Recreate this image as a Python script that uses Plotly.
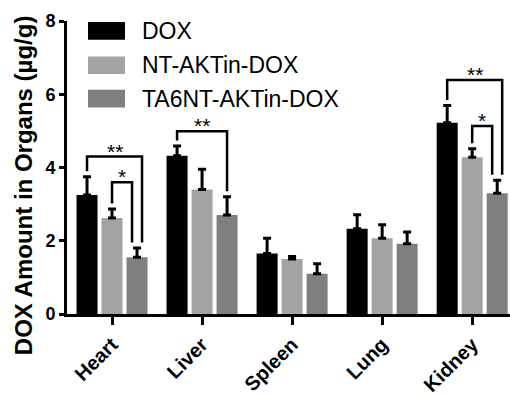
import plotly.graph_objects as go

# Organ distribution of DOX (mean, upper SD) for three formulations
organs = ["Heart", "Liver", "Spleen", "Lung", "Kidney"]
groups = ["DOX", "NT-AKTin-DOX", "TA6NT-AKTin-DOX"]
dox_mean = [3.25, 4.32, 1.65, 2.33, 5.22]
dox_err = [0.50, 0.27, 0.42, 0.38, 0.47]
nt_mean = [2.62, 3.40, 1.50, 2.07, 4.28]
nt_err = [0.25, 0.55, 0.07, 0.37, 0.23]
ta6_mean = [1.55, 2.70, 1.10, 1.92, 3.30]
ta6_err = [0.25, 0.50, 0.27, 0.32, 0.35]
colors = ["#000000", "#a3a3a6", "#7f7f7f"]

# Significance brackets: organ, first group, second group, bracket height, label
sig_organ = ["Heart", "Heart", "Liver", "Kidney", "Kidney"]
sig_from = [0, 1, 0, 0, 1]
sig_to = [2, 2, 2, 2, 2]
sig_level = [4.30, 3.60, 4.99, 6.39, 5.13]
sig_label = ["**", "*", "**", "**", "*"]
sig_nudge = [1, -1, 0, 1, -1]

means = [dox_mean, nt_mean, ta6_mean]
errs = [dox_err, nt_err, ta6_err]

W, H = 510, 396
ML, MR, MT, MB = 67, 0, 21, 77
PW, PH = W - ML - MR, H - MT - MB
BARGAP, GROUPGAP = 0.167, 0.16
FONT = "Arial, Liberation Sans, sans-serif"

fig = go.Figure()
for g, name in enumerate(groups):
    fig.add_trace(go.Bar(
        x=organs, y=means[g], name=name,
        marker=dict(color=colors[g], line=dict(width=0)),
        error_y=dict(type="data", array=errs[g], arrayminus=[0] * len(organs),
                     symmetric=False, color="black", thickness=3, width=4),
        showlegend=False,
    ))

# bar centre offsets within a category slot
slot = (1 - BARGAP) / len(groups)
def bar_x(organ, g):
    return organs.index(organ) + (g - (len(groups) - 1) / 2) * slot

def top(organ, g):
    i = organs.index(organ)
    return means[g][i] + errs[g][i]

nudge = 5 / (PW / 4.92)
gap = 0.15
shapes = []
annotations = []
for org, a, b, lvl, lab, nd in zip(sig_organ, sig_from, sig_to, sig_level, sig_label, sig_nudge):
    x0 = bar_x(org, a)
    x1 = bar_x(org, b) + nd * nudge
    path = (f"M {x0},{top(org, a) + gap} L {x0},{lvl} "
            f"L {x1},{lvl} L {x1},{top(org, b) + gap}")
    shapes.append(dict(type="path", path=path, xref="x", yref="y",
                       line=dict(color="black", width=2.5)))
    annotations.append(dict(x=(x0 + x1) / 2, y=lvl, xref="x", yref="y",
                            text=lab, showarrow=False, yanchor="bottom",
                            yshift=-8, font=dict(family=FONT, size=21, color="black")))

# legend drawn as swatches + labels (pixel positions converted to paper)
def px(x):
    return (x - ML) / PW
def py(y):
    return (MT + PH - y) / PH

row_centres = [31, 66, 100]
for g, name in enumerate(groups):
    cy = row_centres[g]
    shapes.append(dict(type="rect", xref="paper", yref="paper",
                       x0=px(88), x1=px(125), y0=py(cy + 9), y1=py(cy - 9),
                       fillcolor=colors[g], line=dict(width=0)))
    annotations.append(dict(x=px(140), y=py(cy), xref="paper", yref="paper",
                            text=name, showarrow=False, xanchor="left", yanchor="middle",
                            font=dict(family=FONT, size=23, color="black")))

annotations.append(dict(x=px(23), y=py(188), xref="paper", yref="paper",
                        text="<b>DOX Amount in Organs (µg/g)</b>", textangle=-90,
                        showarrow=False, xanchor="center", yanchor="middle",
                        font=dict(family=FONT, size=24, color="black")))

fig.update_layout(
    width=W, height=H,
    margin=dict(l=ML, r=MR, t=MT, b=MB, pad=0),
    paper_bgcolor="white", plot_bgcolor="white",
    barmode="group", bargap=BARGAP, bargroupgap=GROUPGAP,
    shapes=shapes, annotations=annotations,
    font=dict(family=FONT, color="black"),
    xaxis=dict(range=[-0.5, 4.42], showgrid=False, zeroline=False,
               showline=True, linecolor="black", linewidth=3,
               ticks="outside", ticklen=8, tickwidth=3, tickcolor="black",
               tickangle=-45, tickfont=dict(family=FONT, size=20, color="black", weight="bold")),
    yaxis=dict(range=[0, 8], tickvals=[0, 2, 4, 6, 8], showgrid=False, zeroline=False,
               showline=True, linecolor="black", linewidth=3,
               ticks="outside", ticklen=5, tickwidth=3, tickcolor="black",
               tickfont=dict(family=FONT, size=18, color="black", weight="bold")),
)

fig.write_html("out.html")
